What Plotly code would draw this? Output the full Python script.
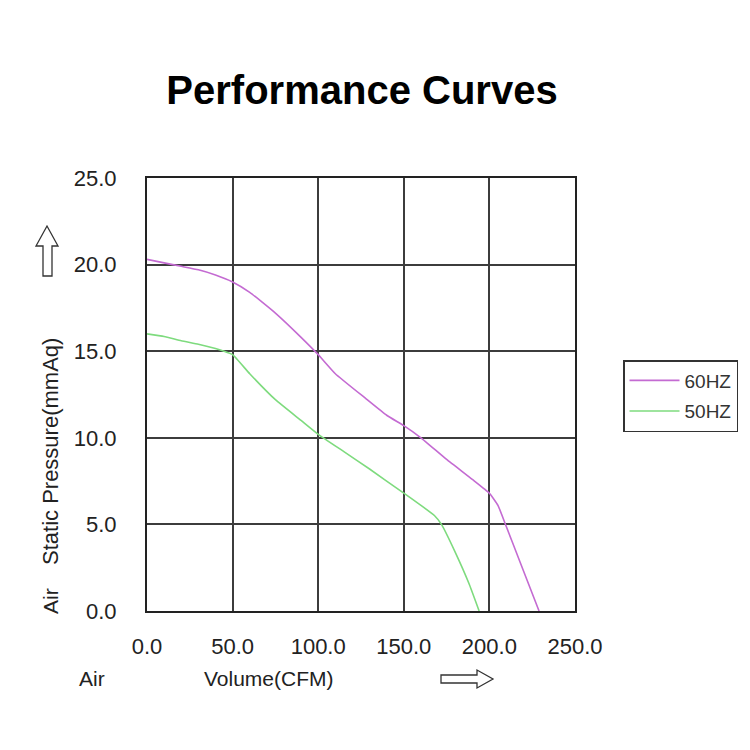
import plotly.graph_objects as go

# ---- data ----
x_60 = [0, 10, 20, 30, 40, 50, 60, 75, 90, 100, 110, 128, 140, 150, 160, 175, 190, 200, 205, 209, 218, 229]
y_60 = [20.3, 20.1, 19.9, 19.7, 19.4, 19.0, 18.4, 17.2, 15.8, 14.8, 13.7, 12.25, 11.3, 10.7, 10.0, 8.75, 7.6, 6.8, 6.1, 5.1, 2.8, 0.0]

x_50 = [0, 10, 20, 30, 40, 45, 50, 60, 75, 90, 100, 115, 130, 150, 160, 168, 172, 180, 188, 194]
y_50 = [16.0, 15.85, 15.6, 15.4, 15.15, 15.0, 14.8, 13.7, 12.2, 11.0, 10.2, 9.2, 8.2, 6.8, 6.1, 5.5, 5.0, 3.4, 1.6, 0.0]

x_ticks = [0, 50, 100, 150, 200, 250]
x_tick_labels = ["0.0", "50.0", "100.0", "150.0", "200.0", "250.0"]
y_ticks = [0, 5, 10, 15, 20, 25]
y_tick_labels = ["0.0", "5.0", "10.0", "15.0", "20.0", "25.0"]

series_names = ["60HZ", "50HZ"]
series_colors = ["#C46BD2", "#7EDB7E"]

# ---- layout geometry (pixels) ----
W, H = 750, 750
L, R, T, B = 147, 575, 178, 611


def px(x):
    return (x - L) / (R - L)


def py(y):
    return (B - y) / (B - T)


def path(points):
    return "M " + " L ".join(f"{px(a):.5f},{py(b):.5f}" for a, b in points) + " Z"


FONT = "Arial, Liberation Sans, sans-serif"
GRID = "#3c3c3c"

fig = go.Figure()
fig.add_trace(go.Scatter(x=x_60, y=y_60, mode="lines", name=series_names[0], legendgroup="a",
                         line=dict(color=series_colors[0], width=1.6, shape="spline", smoothing=0.4)))
fig.add_trace(go.Scatter(x=x_50, y=y_50, mode="lines", name=series_names[1], legendgroup="b",
                         line=dict(color=series_colors[1], width=1.6, shape="spline", smoothing=0.4)))

up_arrow = [(43, 276), (43, 246), (36, 246), (47, 226), (58, 246), (52, 246), (52, 276)]
right_arrow = [(441, 675), (477, 675), (477, 670), (493, 679), (477, 688), (477, 683), (441, 683)]

fig.update_layout(
    width=W, height=H,
    margin=dict(l=L, r=W - R, t=T, b=H - B),
    paper_bgcolor="white", plot_bgcolor="white",
    font=dict(family=FONT, size=21, color="#222222"),
    title=dict(text="<b>Performance Curves</b>", x=(362 / W), xanchor="center",
               y=1 - 90 / H, yanchor="middle", yref="container",
               font=dict(family=FONT, size=40, color="#000000")),
    xaxis=dict(range=[0, 250], tickvals=x_ticks, ticktext=x_tick_labels,
               showgrid=True, gridcolor=GRID, gridwidth=2,
               showline=True, linecolor="#222222", linewidth=2, mirror=True,
               zeroline=False, ticks="", ticklabelstandoff=15,
               tickfont=dict(size=22, color="#222222")),
    yaxis=dict(range=[0, 25], tickvals=y_ticks, ticktext=y_tick_labels,
               showgrid=True, gridcolor=GRID, gridwidth=2,
               showline=True, linecolor="#222222", linewidth=2, mirror=True,
               zeroline=False, ticks="", ticklabelstandoff=24,
               tickfont=dict(size=22, color="#222222")),
    legend=dict(x=px(623), y=py(360), xanchor="left", yanchor="top",
                bordercolor="#333333", borderwidth=1.5, bgcolor="white",
                font=dict(size=19, color="#333333"), tracegroupgap=3,
                traceorder="grouped", itemwidth=50),
    shapes=[
        dict(type="path", xref="paper", yref="paper", path=path(up_arrow),
             line=dict(color="#333333", width=1.3), fillcolor="white"),
        dict(type="path", xref="paper", yref="paper", path=path(right_arrow),
             line=dict(color="#333333", width=1.3), fillcolor="white"),
    ],
    annotations=[
        dict(text="Air", xref="paper", yref="paper", x=px(92), y=py(678),
             showarrow=False, xanchor="center", yanchor="middle", font=dict(size=21)),
        dict(text="Volume(CFM)", xref="paper", yref="paper", x=px(269), y=py(678),
             showarrow=False, xanchor="center", yanchor="middle", font=dict(size=21)),
        dict(text="Air", xref="paper", yref="paper", x=px(50), y=py(601),
             showarrow=False, xanchor="center", yanchor="middle", textangle=-90,
             font=dict(size=21)),
        dict(text="Static Pressure(mmAq)", xref="paper", yref="paper", x=px(50), y=py(452),
             showarrow=False, xanchor="center", yanchor="middle", textangle=-90,
             font=dict(size=22)),
    ],
)

fig.write_html("out.html")
